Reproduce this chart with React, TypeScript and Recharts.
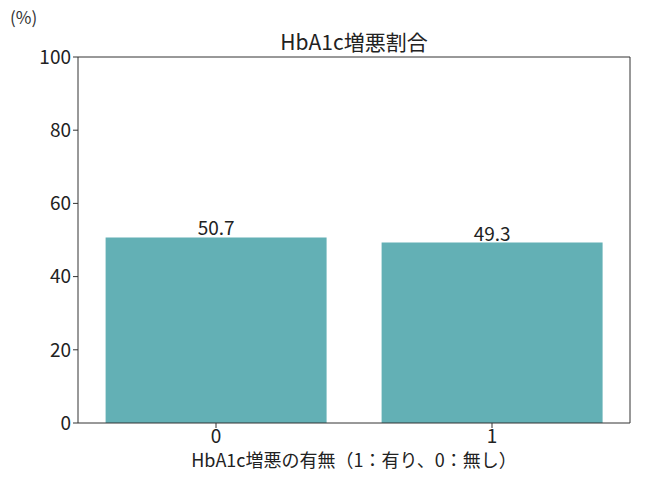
import React from "react";
import { BarChart, Bar, XAxis, YAxis, LabelList } from "recharts";

const categories = ["0", "1"];
const values = [50.7, 49.3];
const yTicks = [0, 20, 40, 60, 80, 100];

const data = categories.map((c, i) => ({ name: c, value: values[i] }));
const FONT = "'Noto Sans CJK JP', 'Noto Sans', sans-serif";
const AX = "#333333";

export default function App() {
  return (
    <div style={{ position: "absolute", left: 0, top: 0, width: 650, height: 490, background: "#fff", fontFamily: FONT }}>
      <div style={{ position: "absolute", left: 10, top: 4, fontSize: 17, color: "#333" }}>(%)</div>
      <div style={{ position: "absolute", left: 78, width: 552, top: 26, textAlign: "center", fontSize: 21, color: "#222" }}>HbA1c増悪割合</div>
      <BarChart
        width={650}
        height={490}
        data={data}
        margin={{ top: 56, right: 19, bottom: 0, left: 0 }}
        barCategoryGap="10%"
      >
        <XAxis
          dataKey="name"
          stroke={AX}
          tick={{ fill: "#222", fontSize: 19, fontFamily: FONT }}
          tickSize={5}
          height={67}
          label={{ value: "HbA1c増悪の有無（1：有り、0：無し）", position: "insideTop", offset: 31, fill: "#222", fontSize: 18, fontFamily: FONT }}
        />
        <XAxis xAxisId="top" orientation="top" dataKey="name" stroke={AX} tick={false} tickLine={false} height={1} />
        <YAxis
          domain={[0, 100]}
          ticks={yTicks}
          stroke={AX}
          tick={{ fill: "#222", fontSize: 19, fontFamily: FONT }}
          tickSize={5}
          width={78}
        />
        <YAxis yAxisId="right" orientation="right" stroke={AX} tick={false} tickLine={false} width={1} />
        <Bar dataKey="value" fill="#63b0b5" isAnimationActive={false}>
          <LabelList dataKey="value" position="top" offset={2} fill="#222" fontSize={19} fontFamily={FONT} />
        </Bar>
      </BarChart>
    </div>
  );
}
